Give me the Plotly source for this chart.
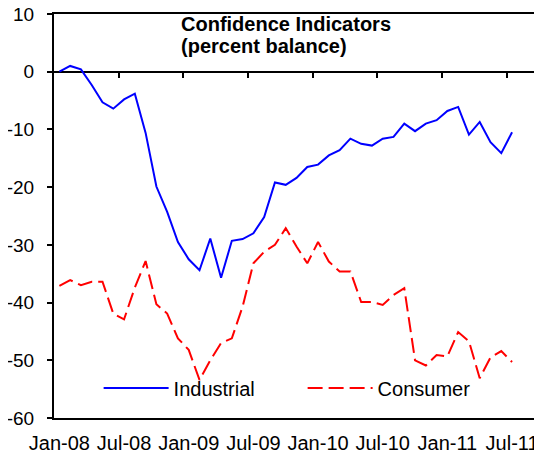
import pandas as pd
import plotly.graph_objects as go

# monthly categories, Jan-08 .. Sep-11 (data stops at Jul-11)
months = [d.strftime("%b-%y") for d in pd.date_range("2008-01-01", "2011-09-01", freq="MS")]
tick_labels = ["Jan-08", "Jul-08", "Jan-09", "Jul-09", "Jan-10", "Jul-10", "Jan-11", "Jul-11"]
y_ticks = [10, 0, -10, -20, -30, -40, -50, -60]
y_tick_text = ["10", "0", "-10", "-20", "-30", "-40", "-50", "-60"]

industrial = [0.0, 1.0, 0.4, -2.3, -5.3, -6.4, -4.8, -3.8, -10.6, -19.9, -24.3, -29.5,
              -32.5, -34.4, -28.9, -35.7, -29.3, -29.0, -28.0, -25.2, -19.2, -19.6, -18.4,
              -16.5, -16.1, -14.5, -13.6, -11.6, -12.5, -12.8, -11.6, -11.3, -9.0, -10.3,
              -9.0, -8.4, -6.8, -6.1, -10.9, -8.7, -12.2, -14.1, -10.5]
consumer = [-37.1, -36.1, -37.0, -36.4, -36.4, -41.9, -42.9, -37.4, -32.8, -40.3, -41.9,
            -46.2, -48.2, -53.4, -50.0, -47.0, -46.2, -40.7, -33.2, -31.2, -30.0, -27.1,
            -30.3, -33.2, -29.5, -32.9, -34.6, -34.6, -39.9, -39.9, -40.4, -38.7, -37.5,
            -50.0, -50.9, -49.1, -49.3, -45.1, -46.7, -53.1, -49.5, -48.4, -50.3]

font = "Arial, Liberation Sans, sans-serif"

trace_ind = go.Scatter(
    x=months[:len(industrial)],
    y=industrial,
    mode="lines",
    line=dict(color="#0000FF", width=2),
    name="Industrial",
)
trace_con = go.Scatter(
    x=months[:len(consumer)],
    y=consumer,
    mode="lines",
    line=dict(color="#FF0000", width=2, dash="15px,6px"),
    name="Consumer",
)
# empty trace so the tick axis on the zero line gets drawn
trace_ticks = go.Scatter(x=[None], y=[None], xaxis="x2", showlegend=False, hoverinfo="skip")

fig = go.Figure(data=[trace_ind, trace_con, trace_ticks])
# the page body adds an 8px margin, so the figure is 8px smaller than the window
fig.update_layout(
    width=534,
    height=450,
    margin=dict(l=46, r=3, t=6, b=40),
    paper_bgcolor="white",
    plot_bgcolor="white",
    font=dict(family=font, size=20, color="black"),
    showlegend=True,
    legend=dict(
        orientation="h",
        x=0.092, y=0.074, xanchor="left", yanchor="middle",
        bgcolor="rgba(0,0,0,0)",
        itemwidth=65,
        entrywidth=124, entrywidthmode="pixels",
        font=dict(size=20),
    ),
    xaxis=dict(
        type="category",
        categoryorder="array",
        categoryarray=months,
        range=[-0.5, len(months) - 0.5],
        tickvals=tick_labels,
        ticktext=tick_labels,
        ticks="",
        showgrid=False,
        showline=True, linecolor="black", linewidth=2, mirror=True,
        ticklabelstandoff=6,
        ticklabeloverflow="allow",
        automargin=False,
        tickfont=dict(size=20),
    ),
    xaxis2=dict(
        overlaying="x",
        anchor="free",
        position=60 / 70,
        range=[-0.5, len(months) - 0.5],
        tickvals=[i + 5.5 for i in range(0, 42, 6)],
        ticks="outside", ticklen=5, tickwidth=2, tickcolor="black",
        showticklabels=False,
        showgrid=False, zeroline=False, showline=False,
    ),
    yaxis=dict(
        range=[-60, 10],
        tickvals=y_ticks,
        ticktext=y_tick_text,
        ticks="outside", ticklen=5, tickwidth=2, tickcolor="black",
        showgrid=False,
        zeroline=True, zerolinecolor="black", zerolinewidth=2,
        showline=True, linecolor="black", linewidth=2, mirror=True,
        ticklabelstandoff=9,
        ticklabeloverflow="allow",
        automargin=False,
        tickfont=dict(size=19),
    ),
    annotations=[
        dict(text="<b>Confidence Indicators</b>", xref="paper", yref="paper",
             x=0.258, y=0.975, xanchor="left", yanchor="middle",
             showarrow=False, font=dict(size=20)),
        dict(text="<b>(percent balance)</b>", xref="paper", yref="paper",
             x=0.258, y=0.922, xanchor="left", yanchor="middle",
             showarrow=False, font=dict(size=20)),
    ],
)

fig.write_html("out.html")
